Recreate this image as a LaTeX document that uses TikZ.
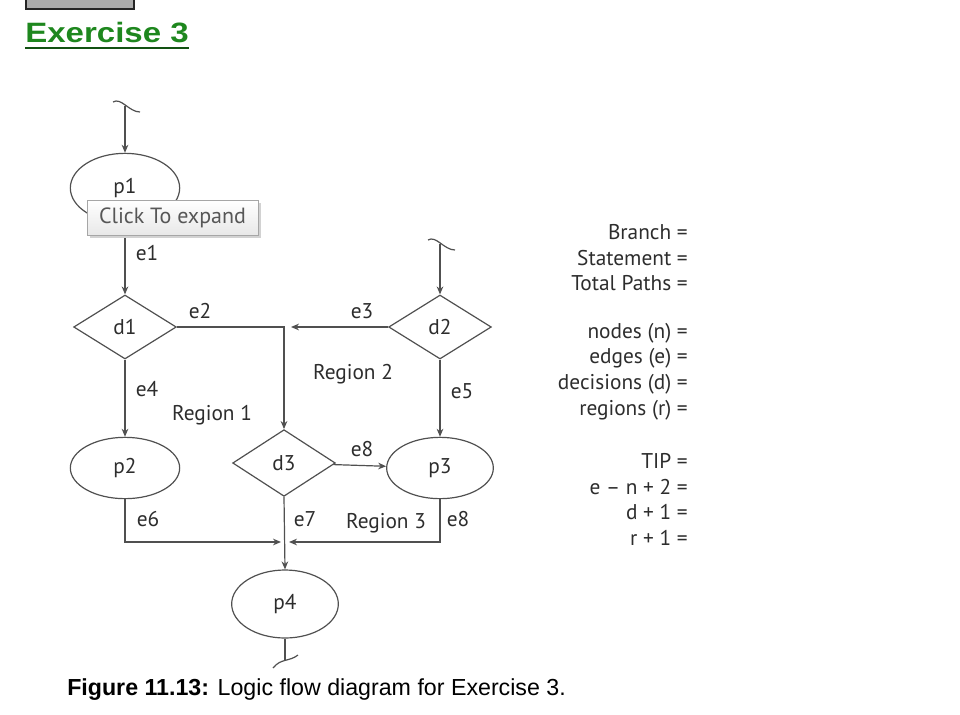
\documentclass[tikz,border=0pt]{standalone}
\usepackage{fontspec}
\setmainfont{PT Sans}
\newfontfamily\capfont{Liberation Sans}
\usetikzlibrary{shapes.geometric,arrows.meta,calc}

\definecolor{linegray}{RGB}{80,80,80}
\definecolor{txtgray}{RGB}{45,45,45}
\definecolor{exgreen}{RGB}{30,135,30}

\tikzset{
    proc/.style={ellipse,draw=linegray,line width=0.9pt,minimum width=82pt,
        minimum height=46pt,inner sep=0pt,text=txtgray,font=\fontsize{16}{18}\selectfont},
    dec/.style={diamond,draw=linegray,line width=0.9pt,minimum width=77pt,
        minimum height=48pt,inner sep=0pt,text=txtgray,font=\fontsize{16}{18}\selectfont},
    flow/.style={draw=linegray,line width=0.9pt,-{Stealth[length=6pt,width=5pt]}},
    wire/.style={draw=linegray,line width=0.9pt},
    lbl/.style={inner sep=0pt,text=txtgray,font=\fontsize{16}{18}\selectfont}
}

\begin{document}
\begin{tikzpicture}[x=0.75pt,y=-0.75pt]
    \useasboundingbox (0,0) rectangle (960,714);
    % Header
    \draw[fill=gray!65,draw=gray!30!black,line width=1.2pt] (26,-4) rectangle (134,9);
    \node[anchor=base west,inner sep=0pt,text=exgreen,
        font=\capfont\bfseries\fontsize{21}{24}\selectfont] (title) at (25,42)
        {\scalebox{1.18}[1]{Exercise 3}};
    \draw[exgreen!60!black,line width=1pt] ([yshift=-4.5pt]title.base west) -- ([yshift=-4.5pt]title.base east);
    % Nodes
    \node[proc,minimum height=52pt] (p1) at (125,188) {p1};
    \node[dec] (d1) at (125,327) {d1};
    \node[dec] (d2) at (440,327) {d2};
    \node[proc] (p2) at (125,468) {p2};
    \node[dec,minimum height=50pt] (d3) at (284,463) {d3};
    \node[proc,minimum width=80pt] (p3) at (440,468) {p3};
    \node[proc,minimum width=80pt,minimum height=51pt] (p4) at (285,604) {p4};
    % Free ends
    \coordinate (s1) at (125,106);
    \coordinate (s2) at (440,244);
    \coordinate (s3) at (285,660);
    \coordinate (j1) at (291,327);
    \coordinate (jn) at (285,542);
    % Squiggles
    \draw[wire] ($(s1)+(-12,-4)$) .. controls ($(s1)+(-4,-9)$) and ($(s1)+(4,6)$) .. ($(s1)+(15,6)$);
    \draw[wire] ($(s2)+(-12,-4)$) .. controls ($(s2)+(-4,-9)$) and ($(s2)+(4,6)$) .. ($(s2)+(15,6)$);
    \draw[wire] ($(s3)+(-12,8)$) .. controls ($(s3)+(-4,-2)$) and ($(s3)+(4,2)$) .. ($(s3)+(13,-5)$);
    % Edges
    \draw[flow] (s1) -- (p1);
    \draw[flow] (s2) -- (d2);
    \draw[flow] (p1) -- (d1);
    \draw[flow] (d1.east) -| (d3.north);
    \draw[flow] (d2.west) -- (j1);
    \draw[flow] (d1) -- (p2);
    \draw[flow] (d2) -- (p3);
    \draw[flow] (d3) -- (p3);
    \draw[flow] (p2.south) |- ([xshift=-3pt]jn);
    \draw[flow] (p3.south) |- ([xshift=3pt]jn);
    \draw[flow] (d3.south) -- (p4.north);
    \draw[wire] (p4.south) -- (s3);
    % Edge labels
    \node[lbl] (e1) at (147,253) {e1};
    \node[lbl] (e2) at (200,311) {e2};
    \node[lbl] (e3) at (362,311) {e3};
    \node[lbl] (e4) at (147,389) {e4};
    \node[lbl] (e5) at (462,391) {e5};
    \node[lbl] (e8a) at (362,449) {e8};
    \node[lbl] (e6) at (148,519) {e6};
    \node[lbl] (e7) at (305,519) {e7};
    \node[lbl] (e8b) at (458,519) {e8};
    % Regions
    \node[lbl] (r1) at (212,415) {Region 1};
    \node[lbl] (r2) at (353,374) {Region 2};
    \node[lbl] (r3) at (386,523) {Region 3};
    % Tooltip
    \fill[gray!35] (90,203) rectangle (261,238);
    \node[draw=gray!70,top color=white,bottom color=gray!18,minimum width=128pt,
        minimum height=26pt,inner sep=0pt,text=txtgray!80,
        font=\fontsize{16.5}{18}\selectfont] (tip) at (172.5,217.5) {Click To expand};
    % Formulas
    \foreach \t/\y [count=\i] in {Branch =/232,Statement =/258,Total Paths =/283,
        nodes (n) =/333,edges (e) =/358,decisions (d) =/384,regions (r) =/410,
        TIP =/461,e -- n + 2 =/487,d + 1 =/512,r + 1 =/538}
        \node[lbl,anchor=east] (q\i) at (688,\y) {\t};
    % Caption
    \node[anchor=west,inner sep=0pt,font=\capfont\fontsize{17.4}{20}\selectfont] (cap) at (67,690)
        {\textbf{Figure 11.13:} Logic flow diagram for Exercise 3.};
\end{tikzpicture}
\end{document}
